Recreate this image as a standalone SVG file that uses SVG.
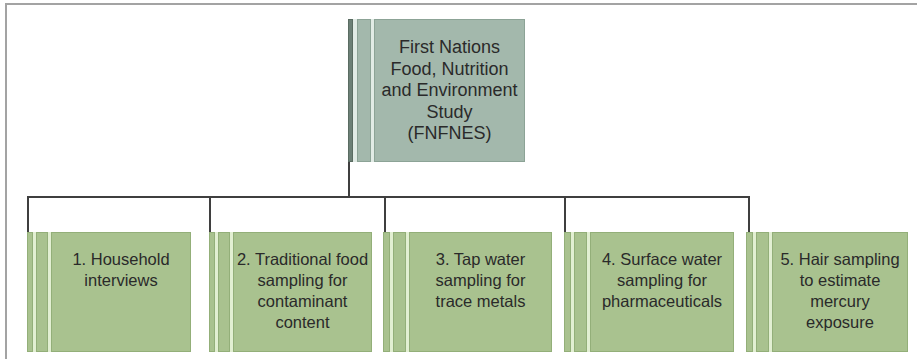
<svg xmlns="http://www.w3.org/2000/svg" width="917" height="359" viewBox="0 0 917 359">
<style>
.frame{stroke:#a3a3a3;stroke-width:2;fill:none}
.conn{stroke:#3f3f3f;stroke-width:2;fill:none}
.gback{fill:#e2efd2}
.g{fill:#a9c28f;stroke:#93af79;stroke-width:1}
.tback{fill:#e1ebe5}
.t{fill:#a3b8ac;stroke:#8ca396;stroke-width:1}
.tdark{fill:#6c8076;stroke:#5a6c62;stroke-width:1}
.lbl{font-family:"Liberation Sans",Arial,sans-serif;fill:#2a2a2a;text-anchor:middle}
.top{font-size:18px}
.sub{font-size:16.5px}
</style>
<rect width="917" height="359" fill="#ffffff"/>
<path class="frame" d="M6,359 V4 H917"/>
<g id="connectors">
<path class="conn" d="M349,160 V197"/>
<path class="conn" d="M28,232 V197 H749 V232"/>
<path class="conn" d="M210,197 V232"/>
<path class="conn" d="M385,197 V232"/>
<path class="conn" d="M565,197 V232"/>
</g>
<g id="fnfnes">
<rect class="tback" x="348" y="19" width="177" height="143"/>
<rect class="tdark" x="348.5" y="19.5" width="4" height="142"/>
<rect class="t" x="357.5" y="19.5" width="13" height="142"/>
<rect class="t" x="374.5" y="19.5" width="150" height="142"/>
<text class="lbl top" x="449.5"><tspan x="449.5" y="53">First Nations</tspan><tspan x="449.5" y="75">Food, Nutrition</tspan><tspan x="449.5" y="96">and Environment</tspan><tspan x="449.5" y="118">Study</tspan><tspan x="449.5" y="139">(FNFNES)</tspan></text>
</g>
<g id="node1">
<rect class="gback" x="27" y="232" width="164" height="120"/>
<rect class="g" x="27.5" y="232.5" width="5" height="119"/>
<rect class="g" x="36.5" y="232.5" width="11" height="119"/>
<rect class="g" x="51.5" y="232.5" width="139" height="119"/>
<text class="lbl sub"><tspan x="121" y="265">1. Household</tspan><tspan x="121" y="286">interviews</tspan></text>
</g>
<g id="node2">
<rect class="gback" x="209" y="232" width="163" height="120"/>
<rect class="g" x="209.5" y="232.5" width="5" height="119"/>
<rect class="g" x="218.5" y="232.5" width="11" height="119"/>
<rect class="g" x="233.5" y="232.5" width="138" height="119"/>
<text class="lbl sub"><tspan x="302.5" y="265">2. Traditional food</tspan><tspan x="302.5" y="286">sampling for</tspan><tspan x="302.5" y="307">contaminant</tspan><tspan x="302.5" y="328">content</tspan></text>
</g>
<g id="node3">
<rect class="gback" x="383" y="232" width="169" height="120"/>
<rect class="g" x="383.5" y="232.5" width="6" height="119"/>
<rect class="g" x="393.5" y="232.5" width="12" height="119"/>
<rect class="g" x="409.5" y="232.5" width="142" height="119"/>
<text class="lbl sub"><tspan x="480.5" y="265">3. Tap water</tspan><tspan x="480.5" y="286">sampling for</tspan><tspan x="480.5" y="307">trace metals</tspan></text>
</g>
<g id="node4">
<rect class="gback" x="564" y="232" width="170" height="120"/>
<rect class="g" x="564.5" y="232.5" width="6" height="119"/>
<rect class="g" x="574.5" y="232.5" width="12" height="119"/>
<rect class="g" x="590.5" y="232.5" width="143" height="119"/>
<text class="lbl sub"><tspan x="662" y="265">4. Surface water</tspan><tspan x="662" y="286">sampling for</tspan><tspan x="662" y="307">pharmaceuticals</tspan></text>
</g>
<g id="node5">
<rect class="gback" x="746" y="232" width="162" height="120"/>
<rect class="g" x="746.5" y="232.5" width="6" height="119"/>
<rect class="g" x="756.5" y="232.5" width="12" height="119"/>
<rect class="g" x="772.5" y="232.5" width="135" height="119"/>
<text class="lbl sub"><tspan x="840" y="265">5. Hair sampling</tspan><tspan x="840" y="286">to estimate</tspan><tspan x="840" y="307">mercury</tspan><tspan x="840" y="328">exposure</tspan></text>
</g>
</svg>
